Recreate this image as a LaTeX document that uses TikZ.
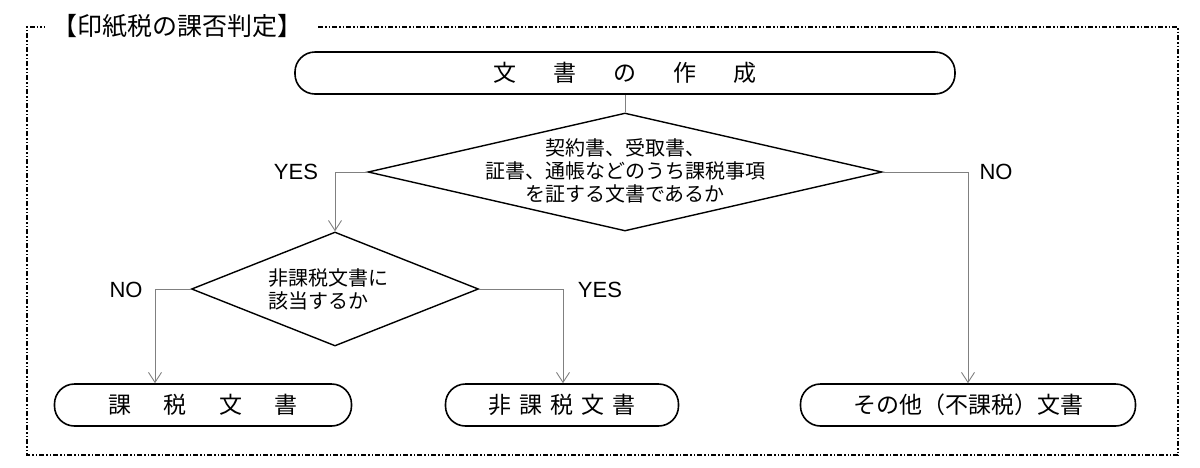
\documentclass[tikz,border=0pt]{standalone}
\usepackage{fontspec}
\setmainfont{Noto Sans CJK JP}
\newfontfamily\lab{Liberation Sans}
\usetikzlibrary{shapes.geometric,arrows.meta}
\begin{document}
\begin{tikzpicture}[x=1pt,y=-1pt,
  term/.style={draw,line width=1.6pt,rounded corners=20pt,minimum height=42pt,font=\fontsize{23}{25}\selectfont,inner sep=0pt},
  dia/.style={draw,line width=1.4pt,diamond,aspect=2.2,inner sep=0pt},
  dtext/.style={font=\fontsize{20}{23}\selectfont,inner sep=0pt},
  conn/.style={gray,line width=0.9pt,-{Straight Barb[length=10pt,width=13pt]}},
  lbl/.style={font=\fontsize{22}{24}\selectfont\lab}]
\useasboundingbox (0,0) rectangle (1200,467);
\draw[dash pattern=on 5pt off 2pt on 1.5pt off 2pt on 1.5pt off 2pt,line width=1.4pt] (318,27) -- (1178,27) -- (1178,455) -- (27,455) -- (27,27) -- (45,27);
\node[font=\fontsize{25}{27}\selectfont,anchor=west,inner sep=0pt] (title) at (52,26) {【印紙税の課否判定】};
\node[term,minimum width=660pt] (start) at (625,73) {文\hspace{1.6em}書\hspace{1.6em}の\hspace{1.6em}作\hspace{1.6em}成};
\node[dia,minimum width=514pt,minimum height=118pt] (d1) at (625,172) {};
\node[dtext,align=center] (t1) at (625,171) {契約書、受取書、\\証書、通帳などのうち課税事項\\を証する文書であるか};
\node[dia,minimum width=287pt,minimum height=114pt] (d2) at (335,289) {};
\node[dtext,align=left] (t2) at (328,289) {非課税文書に\\該当するか};
\node[term,minimum width=297pt] (b1) at (203,405) {課\hspace{1.4em}税\hspace{1.4em}文\hspace{1.4em}書};
\node[term,minimum width=233pt] (b2) at (562,405) {非\hspace{0.35em}課\hspace{0.35em}税\hspace{0.35em}文\hspace{0.35em}書};
\node[term,minimum width=335pt] (b3) at (968,405) {その他（不課税）文書};
\coordinate (c1) at (335,172); \coordinate (c2) at (968,172);
\coordinate (c3) at (155,289); \coordinate (c4) at (563,289);
\draw[gray,line width=0.9pt] (start.south) -- (d1.north);
\draw[conn] (d1.west) -- (c1) -- (d2.north);
\draw[conn] (d1.east) -- (c2) -- (b3.north);
\draw[conn] (d2.west) -- (c3) -- (b1.north -| c3);
\draw[conn] (d2.east) -- (c4) -- (b2.north -| c4);
\node[lbl] (yes1) at (296,172) {YES};
\node[lbl] (no1) at (996,172) {NO};
\node[lbl] (no2) at (126,290) {NO};
\node[lbl] (yes2) at (600,290) {YES};
\end{tikzpicture}
\end{document}
